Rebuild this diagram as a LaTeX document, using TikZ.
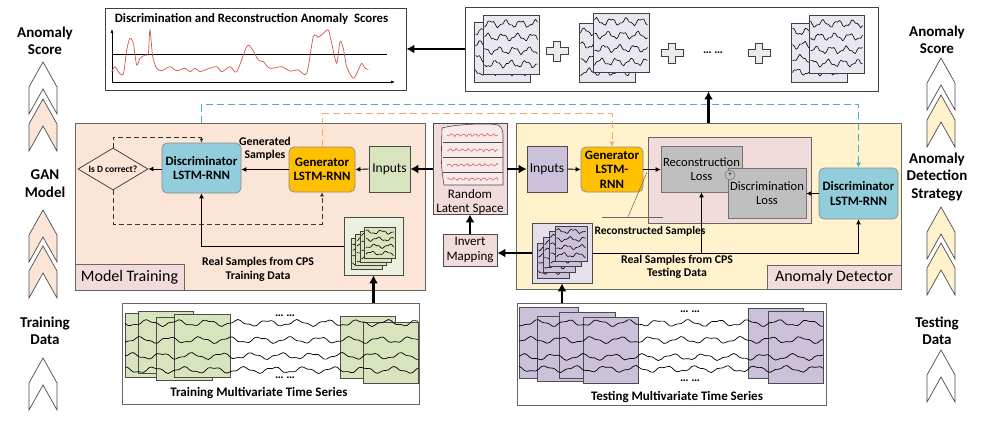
\documentclass[tikz,border=0pt]{standalone}
\usepackage{fontspec}
\setmainfont{Carlito}
\usetikzlibrary{arrows.meta,shapes.geometric}
\tikzset{>={Latex[width=5pt,length=5pt]}}
\definecolor{peachbg}{HTML}{FBE5D6}
\definecolor{creambg}{HTML}{FFF2CC}
\definecolor{pinkc}{HTML}{F2DCDB}
\definecolor{discc}{HTML}{92CDDC}
\definecolor{genc}{HTML}{FFC000}
\definecolor{greenc}{HTML}{D7E4BD}
\definecolor{greenbg}{HTML}{EBF1DE}
\definecolor{purpc}{HTML}{CCC1DA}
\definecolor{purpbg}{HTML}{E6E0EC}
\definecolor{greyc}{HTML}{BFBFBF}
\definecolor{sheetc}{HTML}{E9E7EF}
\definecolor{tealc}{HTML}{4BACC6}
\definecolor{orangec}{HTML}{F6A66E}
\definecolor{redc}{HTML}{D0574F}
\newcommand\fsz[2]{\fontsize{#1}{#2}\selectfont}

\begin{document}
\begin{tikzpicture}[x=1pt,y=-1pt,
  area/.style={draw=black!60, line width=0.8pt},
  panel/.style={draw=black!75, line width=0.9pt, fill=white},
  tag/.style={draw=black!60, line width=0.7pt, fill=pinkc, font=\fsz{16}{17}, inner sep=0pt},
  lstm/.style={draw=black!45, line width=0.7pt, rounded corners=5pt, align=center, inner sep=0pt, font=\bfseries\fsz{12.8}{14.5}},
  blk/.style={draw=black!70, line width=0.7pt, align=center, inner sep=0pt, font=\fsz{13.5}{14.5}},
  note/.style={align=center, font=\bfseries\fsz{11.8}{13.5}},
  sidetxt/.style={align=center, font=\bfseries\fsz{15}{17.5}},
  flow/.style={->, line width=0.9pt},
  bigflow/.style={-{Latex[width=9pt,length=8pt]}, line width=2.2pt},
  retry/.style={-{Latex[width=4pt,length=4pt]}, dash pattern=on 5pt off 3pt, line width=0.7pt, draw=black!80},
  share/.style={-{Latex[width=5pt,length=5pt]}, dash pattern=on 7pt off 4pt, line width=1.1pt, draw=tealc},
  copyw/.style={-{Latex[width=5pt,length=5pt]}, dash pattern=on 7pt off 4pt, line width=0.9pt, draw=orangec}]
\useasboundingbox (0,0) rectangle (983,421);

\newcommand\chev[3]{\draw[draw=black!70, line width=0.7pt, fill=#3] (#1,#2) -- (#1+14,#2+25) -- (#1+14,#2+52) -- (#1,#2+27) -- (#1-14,#2+52) -- (#1-14,#2+25) -- cycle;}
\newcommand\tsheet[6]{%
  \draw[draw=black!75, line width=0.6pt, fill=#5] (#1,#2) rectangle (#3,#4);
  \pgfmathsetmacro\sxa{(#1)+1.5}\pgfmathsetmacro\sxb{(#3)-1.5}\pgfmathsetmacro\shh{(#4)-(#2)}
  \foreach \k in {1,...,4}
    \draw[line width=0.6pt] plot[domain=\sxa:\sxb, samples=30, smooth] (\x,{(#2)+\shh*(\k-0.35)/4.4+\shh/20*sin(24*(\x-\sxa)+#6+80*\k)+\shh/45*sin(61*(\x-\sxa)+#6)});
}
\newcommand\plusmark[2]{\draw[draw=black!75, line width=0.7pt, fill=black!8] (#1-3.5,#2-10) -- (#1+3.5,#2-10) -- (#1+3.5,#2-3.5) -- (#1+11,#2-3.5) -- (#1+11,#2+3.5) -- (#1+3.5,#2+3.5) -- (#1+3.5,#2+10) -- (#1-3.5,#2+10) -- (#1-3.5,#2+3.5) -- (#1-11,#2+3.5) -- (#1-11,#2-3.5) -- (#1-3.5,#2-3.5) -- cycle;}

% side columns
\node[sidetxt] (lscore) at (45,41) {Anomaly\\Score};
\chev{43}{62}{white} \chev{43}{99}{peachbg}
\node[sidetxt] (lgan) at (45,183.5) {GAN\\Model};
\chev{43}{210}{peachbg} \chev{43}{246}{peachbg}
\node[sidetxt] (ltrain) at (45,331) {Training\\Data};
\chev{43}{358}{white}

\node[sidetxt] (rscore) at (937,40) {Anomaly\\Score};
\chev{941}{58}{white} \chev{941}{95}{creambg}
\node[sidetxt] (rstrat) at (937,177) {Anomaly\\Detection\\Strategy};
\chev{941}{207}{creambg} \chev{941}{243}{creambg}
\node[sidetxt] (rtest) at (937,331) {Testing\\Data};
\chev{941}{350}{white}

% areas
\node[area, fill=peachbg, minimum width=350pt, minimum height=167pt] (train) at (250,206.5) {};
\node[area, fill=creambg, minimum width=385pt, minimum height=166pt] (detect) at (708.5,206) {};
\node[tag, minimum width=109pt, minimum height=26pt] (traintag) at (129.5,277) {Model Training};
\node[tag, minimum width=134pt, minimum height=24pt] (detecttag) at (834,277) {Anomaly Detector};

% top panels
\node[panel, minimum width=301pt, minimum height=82pt] (scores) at (255.5,49) {};
\node[font=\bfseries\fsz{12.8}{13}] (scoretitle) at (251.5,19) {Discrimination and Reconstruction Anomaly\ \ Scores};
\draw[-{Latex[width=3pt,length=4pt]}, line width=0.6pt] (112,82) -- (112,29);
\draw[-{Latex[width=3pt,length=4pt]}, line width=0.6pt] (112,82) -- (395,82);
\draw[line width=0.6pt] (112,54) -- (387,54);
\draw[redc, line width=0.7pt] plot[smooth, tension=0.5] coordinates {(111.7,71.7) (115,66.7) (118.3,71.7) (123.3,74) (126.7,50) (130,38.3) (133.3,43.3) (136.7,65) (140,58.3) (145,55) (148.3,53.3) (150,30) (152.7,56.7) (156.7,68.3) (161.7,70.7) (170,66.7) (176.7,70.7) (185,68.3) (190,71.7) (195,68.3) (200,71.7) (206.7,69.3) (216.7,66.7) (221.7,71.7) (230,66.7) (236.7,71.7) (246.7,46.7) (251.7,48.3) (258.3,60) (263.3,61.7) (270,68.3) (281.7,66.7) (290,71) (298.3,70) (306.7,73.3) (313.3,36.7) (318.3,37.3) (323.3,33.3) (328.3,30) (331.7,43.3) (336.7,63.3) (340,41.7) (343.3,48.3) (346.7,66.7) (353.3,78.3) (358.3,70) (361.7,63.3) (365,68.3) (368.3,69.3)};

\node[panel, minimum width=413pt, minimum height=84pt] (windows) at (671.5,49) {};
\tsheet{474}{22}{530}{82}{sheetc}{0} \tsheet{483}{15}{539}{74}{sheetc}{40}
\tsheet{579}{23}{635}{82}{sheetc}{100} \tsheet{593}{13}{649}{72}{sheetc}{150}
\tsheet{791}{23}{847}{82}{sheetc}{200} \tsheet{809}{15}{864}{73}{sheetc}{250}
\plusmark{557}{51} \plusmark{672}{53} \plusmark{759}{53}
\node[font=\bfseries\fsz{12}{12}] (wdots) at (713,53) {\ldots\ \ldots};

% bottom panels
\node[panel, draw=black!60, minimum width=297pt, minimum height=101pt] (trainset) at (270.5,353.5) {};
\foreach \a/\b/\c/\d in {125/313/182/377, 138/311/193/373, 156/317/212/380, 174/314/230/377, 340/316/395/378, 363/322/418/383}
  \draw[fill=greenc, draw=black!70, line width=0.6pt] (\a,\b) rectangle (\c,\d);
\foreach \yy/\ph in {323/0,340/95,356/190,370/285}
  \draw[line width=0.7pt] plot[domain=125:418, samples=110, smooth] (\x,{\yy+2.6*sin(12*(\x-125)+\ph)+1*sin(31*(\x-125)+2*\ph)});
\node[font=\bfseries\fsz{12}{12}] (trdotsA) at (285,316) {\ldots\ \ldots};
\node[font=\bfseries\fsz{12}{12}] (trdotsB) at (285,378) {\ldots\ \ldots};
\node[font=\bfseries\fsz{13}{13}] (traincap) at (259,393) {Training Multivariate Time Series};

\node[panel, draw=black!60, minimum width=309pt, minimum height=102pt] (testset) at (671.5,354) {};
\foreach \a/\b/\c/\d in {519/307/578/378, 537/316/596/381, 559/312/615/378, 583/317/638/383, 748/308/803/378, 768/311/823/383}
  \draw[fill=purpc, draw=black!70, line width=0.6pt] (\a,\b) rectangle (\c,\d);
\foreach \yy/\ph in {323/40,340/130,357/220,369/310}
  \draw[line width=0.7pt] plot[domain=519:823, samples=110, smooth] (\x,{\yy+2.6*sin(12*(\x-519)+\ph)+1*sin(31*(\x-519)+2*\ph)});
\node[font=\bfseries\fsz{12}{12}] (tsdotsA) at (690,312) {\ldots\ \ldots};
\node[font=\bfseries\fsz{12}{12}] (tsdotsB) at (690,381) {\ldots\ \ldots};
\node[font=\bfseries\fsz{13}{13}] (testcap) at (677,397) {Testing Multivariate Time Series};

% model training
\node[diamond, aspect=1.67, draw=black!80, line width=0.7pt, inner sep=0pt, minimum width=70pt, minimum height=42pt, font=\bfseries\fsz{9.5}{10}] (isd) at (113,169) {Is D correct?};
\node[lstm, fill=discc, minimum width=79pt, minimum height=50pt] (discL) at (201.5,168) {Discriminator\\LSTM-RNN};
\node[lstm, fill=genc, minimum width=66pt, minimum height=45pt] (genL) at (322,169.5) {Generator\\LSTM-RNN};
\node[blk, fill=greenc, minimum width=41pt, minimum height=46pt] (inL) at (389.5,169) {Inputs};
\node[note] (gensamp) at (265,149) {Generated\\Samples};
\node[blk, fill=greenbg, minimum width=59pt, minimum height=58pt] (stackL) at (373.5,246) {};
\foreach \i in {0,...,3} {\tsheet{351+4.5*\i}{238-3.5*\i}{382+4.5*\i}{269-3.5*\i}{greenc}{\i*60}}
\node[note] (realL) at (258,269.5) {Real Samples from CPS\\Training Data};

% latent space
\node[blk, fill=pinkc, minimum width=74pt, minimum height=91pt] (latent) at (470,168.5) {};
\draw[draw=black!70, fill=pinkc!60!white, line width=0.6pt] (442,128) .. controls (455,124) and (490,123) .. (498,125) .. controls (502,128) .. (503,134) -- (503,185) -- (444,185) .. controls (441,165) .. (442,128) -- cycle;
\foreach \yy in {142,157,172} \draw[draw=black!70, line width=0.6pt] (442.5,\yy) -- (503,\yy);
\foreach \yy/\ph in {135/0,150/70,165/140,179/210}
  \draw[redc, line width=0.5pt] plot[domain=447:498, samples=40, smooth] (\x,{\yy+1.1*sin(60*(\x-447)+\ph)+0.6*sin(150*(\x-447))});
\node[font=\fsz{13}{14}, align=center] (latenttxt) at (470,202) {Random\\Latent Space};
\node[blk, fill=pinkc, font=\fsz{13}{14.5}, minimum width=54pt, minimum height=32pt] (invert) at (470,250) {Invert\\Mapping};

% anomaly detector
\node[blk, fill=purpc, minimum width=40pt, minimum height=46pt] (inR) at (547,169) {Inputs};
\node[lstm, fill=genc, minimum width=62pt, minimum height=45pt] (genR) at (612,169.5) {Generator\\LSTM-\\RNN};
\node[blk, draw=black!60, fill=pinkc, minimum width=163pt, minimum height=86pt] (lossbox) at (729.5,180) {};
\node[blk, draw=black!55, fill=greyc, font=\fsz{12.6}{14}, minimum width=81pt, minimum height=46pt] (recon) at (701.5,169) {Reconstruction\\Loss};
\node[blk, draw=black!55, fill=greyc, font=\fsz{12.6}{14}, minimum width=78pt, minimum height=50pt] (discloss) at (767,193) {Discrimination\\Loss};
\node[circle, draw=black!60, fill=greyc, minimum size=10pt, inner sep=0pt, font=\fsz{7}{7}] (sum) at (730,175) {+};
\node[lstm, fill=discc, minimum width=79pt, minimum height=51pt] (discR) at (858.5,193.5) {Discriminator\\LSTM-RNN};
\node[blk, fill=purpbg, minimum width=60pt, minimum height=60pt] (stackR) at (562,253) {};
\foreach \i in {0,...,3} {\tsheet{537+6*\i}{243-5.67*\i}{569+6*\i}{278-5.67*\i}{purpc}{\i*50}}
\node[note, font=\bfseries\fsz{11.5}{13}] (reconsamp) at (650,231) {Reconstructed Samples};
\node[note] (realR) at (677,267) {Real Samples from CPS\\Testing Data};
\coordinate (callA) at (602,217);
\coordinate (callB) at (663,217);
\coordinate (callfoot) at (628,217);
\coordinate (calltip) at (647,172);
\draw[black!60, line width=0.5pt] (callA) -- (callB);
\draw[black!60, line width=0.5pt] (callfoot) -- (calltip);

% connectors
\draw[share] (discL.north |- train.north) -- ++(0,-18) -| (discR.north);
\draw[copyw] (genL.north) -- ++(0,-33) -| (genR.north);
\draw[bigflow] (windows.west) -- (scores.east);
\draw[bigflow] (detect.north) -- (detect.north |- windows.south);
\draw[bigflow] (latent.west |- inL.east) -- (inL.east);
\draw[bigflow] (latent.east |- inR.west) -- (inR.west);
\draw[bigflow] (invert.north) -- (latent.south);
\draw[bigflow] (stackR.west) -- (stackR.west -| invert.east);
\draw[bigflow] (trainset.north -| stackL.south) -- (stackL.south);
\draw[bigflow] (testset.north -| stackR.south) -- (stackR.south);

\draw[flow] (inL.west) -- (genL.east);
\draw[flow] (genL.west) -- (genL.west -| discL.east);
\draw[flow] (discL.west |- isd.east) -- (isd.east);
\draw[flow] (stackL.west) -| (discL.south);
\coordinate (loopT) at (113,137);
\coordinate (loopB) at (113,224);
\draw[retry] (isd.north) -- (loopT) -| (discL.north);
\draw[retry] (isd.south) -- (loopB) -| (genL.south);

\draw[flow] (inR.east) -- (genR.west);
\draw[flow] (genR.east) -- (genR.east -| recon.west);
\draw[flow] (discR.west) -- (discR.west -| discloss.east);
\draw[flow] (stackR.east) -| (discR.south);
\draw[flow] (stackR.east -| recon.south) -- (recon.south);

\end{tikzpicture}
\end{document}
